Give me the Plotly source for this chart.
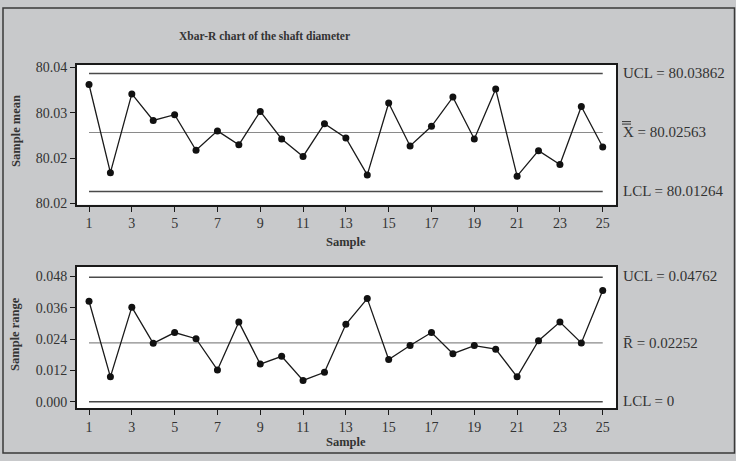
import plotly.graph_objects as go

# Subgroup statistics for 25 samples of shaft diameter
samples = list(range(1, 26))
sample_means = [80.0362, 80.01677, 80.03412, 80.02827, 80.02956, 80.0217, 80.02598,
                80.02292, 80.03027, 80.0242, 80.02035, 80.02757, 80.02442, 80.01628,
                80.03213, 80.02264, 80.02699, 80.03342, 80.0242, 80.03519, 80.016,
                80.02163, 80.01857, 80.03134, 80.02242]
sample_ranges = [0.03845, 0.00954, 0.0362, 0.02237, 0.02648, 0.02412, 0.01216,
                 0.03048, 0.0144, 0.01739, 0.00815, 0.0113, 0.02962, 0.03946,
                 0.01616, 0.0215, 0.02648, 0.0184, 0.0215, 0.02012, 0.00954,
                 0.02338, 0.03048, 0.02252, 0.04256]

# Control limits
xbar_ucl, xbar_cl, xbar_lcl = 80.03862, 80.02563, 80.01264
r_ucl, r_cl, r_lcl = 0.04762, 0.02252, 0.0

# Tick labels as printed on the chart
xbar_tickvals = [80.01, 80.02, 80.03, 80.04]
xbar_ticktext = ["80.02", "80.02", "80.03", "80.04"]
r_tickvals = [0.0, 0.012, 0.024, 0.036, 0.048]
r_ticktext = ["0.000", "0.012", "0.024", "0.036", "0.048"]
x_tickvals = list(range(1, 26, 2))

FONT = "Liberation Serif"
BG = "#c8c9cb"
TXT = "#333333"
W, H = 736, 461

def px_x(p):
    return p / W

def px_y(p):
    return 1 - p / H

fig = go.Figure()

def add_panel(values, ucl, cl, lcl, xa, ya):
    limit_x = [samples[0], samples[-1]]
    fig.add_trace(go.Scatter(x=limit_x, y=[ucl, ucl], mode="lines",
                             line=dict(color="#4a4a4a", width=1.6),
                             xaxis=xa, yaxis=ya, hoverinfo="skip"))
    fig.add_trace(go.Scatter(x=limit_x, y=[cl, cl], mode="lines",
                             line=dict(color="#8a8a8a", width=1.2),
                             xaxis=xa, yaxis=ya, hoverinfo="skip"))
    fig.add_trace(go.Scatter(x=limit_x, y=[lcl, lcl], mode="lines",
                             line=dict(color="#4a4a4a", width=1.6),
                             xaxis=xa, yaxis=ya, hoverinfo="skip"))
    fig.add_trace(go.Scatter(x=samples, y=values, mode="lines+markers",
                             line=dict(color="#1a1a1a", width=1.3),
                             marker=dict(color="#111111", size=7),
                             xaxis=xa, yaxis=ya))

add_panel(sample_means, xbar_ucl, xbar_cl, xbar_lcl, "x", "y")
add_panel(sample_ranges, r_ucl, r_cl, r_lcl, "x2", "y2")

axis_common = dict(showgrid=False, zeroline=False, showline=True, mirror=True,
                   linecolor="#1a1a1a", linewidth=1.5, ticks="outside",
                   ticklen=5, tickwidth=1, tickcolor="#1a1a1a",
                   tickfont=dict(family=FONT, size=14, color=TXT))

xdom = [px_x(76.7), px_x(616)]
fig.update_layout(
    width=W, height=H, margin=dict(l=0, r=0, t=0, b=0),
    paper_bgcolor=BG, plot_bgcolor="white", showlegend=False,
    xaxis=dict(axis_common, domain=xdom, range=[0.425, 25.62],
               tickvals=x_tickvals, anchor="y"),
    yaxis=dict(axis_common, domain=[px_y(205.7), px_y(62)],
               range=[80.0097, 80.0406], tickvals=xbar_tickvals,
               ticktext=xbar_ticktext, anchor="x"),
    xaxis2=dict(axis_common, domain=xdom, range=[0.425, 25.62],
                tickvals=x_tickvals, anchor="y2"),
    yaxis2=dict(axis_common, domain=[px_y(414.3), px_y(269.3)],
                range=[-0.00254, 0.0516], tickvals=r_tickvals,
                ticktext=r_ticktext, anchor="x2"),
)

# Outer frame
fig.add_shape(type="rect", xref="paper", yref="paper",
              x0=px_x(3), x1=px_x(734.5), y0=px_y(460), y1=px_y(4),
              line=dict(color="#3a3a3a", width=1.5), layer="below")

def note(text, x, y, size=15, bold=False, xanchor="left", angle=0):
    if bold:
        text = "<b>" + text + "</b>"
    fig.add_annotation(text=text, xref="paper", yref="paper",
                       x=px_x(x), y=px_y(y), xanchor=xanchor, yanchor="middle",
                       showarrow=False, textangle=angle,
                       font=dict(family=FONT, size=size, color=TXT))

note("Xbar-R chart of the shaft diameter", 264, 33, size=11.5, bold=True,
     xanchor="center")
note("Sample mean", 16, 130, size=12.5, bold=True, xanchor="center", angle=-90)
note("Sample range", 15, 338, size=12.5, bold=True, xanchor="center", angle=-90)
note("Sample", 346, 244, size=12.5, bold=True, xanchor="center")
note("Sample", 346, 449, size=12.5, bold=True, xanchor="center")

note(f"UCL = {xbar_ucl:.5f}", 621, 70.7)
note(f"X = {xbar_cl:.5f}", 621, 131)
note(f"LCL = {xbar_lcl:.5f}", 621, 192)
note(f"UCL = {r_ucl:.5f}", 621, 279)
note(f"R\u0304 = {r_cl:.5f}", 621, 347)
note(f"LCL = {r_lcl:g}", 621, 407)

# Double bar over the grand-mean symbol
for yb in (120.5, 123):
    fig.add_shape(type="line", xref="paper", yref="paper",
                  x0=px_x(622), x1=px_x(631), y0=px_y(yb), y1=px_y(yb),
                  line=dict(color=TXT, width=1))

fig.write_html("out.html")
